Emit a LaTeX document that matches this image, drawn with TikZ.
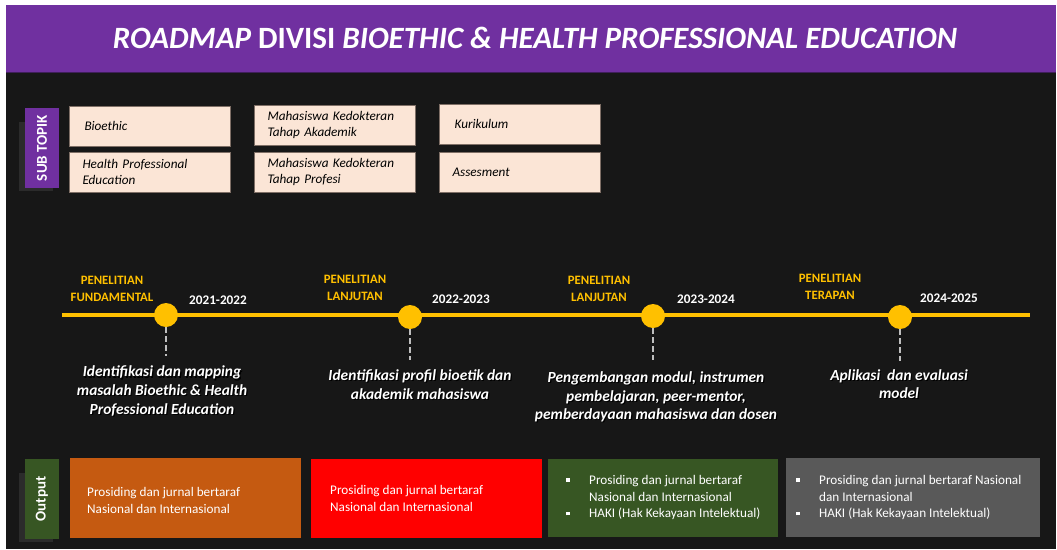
\documentclass[tikz,border=0pt]{standalone}
\usepackage{fontspec}
\setmainfont{Carlito}
\definecolor{bgdark}{HTML}{171717}
\definecolor{titlepurple}{HTML}{7030A0}
\definecolor{titleline}{HTML}{3F1F5A}
\definecolor{peach}{HTML}{FBE5D6}
\definecolor{peachborder}{HTML}{7F6F66}
\definecolor{tlyellow}{HTML}{FFC000}
\definecolor{dashgrey}{HTML}{BFBFBF}
\definecolor{outorange}{HTML}{C55A11}
\definecolor{outred}{HTML}{FF0000}
\definecolor{outgreen}{HTML}{375623}
\definecolor{outgrey}{HTML}{595959}
\definecolor{shadowgrey}{HTML}{2B2B2B}
\tikzset{
  topicbox/.style={draw=peachborder, line width=0.8pt, fill=peach, minimum height=40pt,
    text width=135pt, inner xsep=13pt, inner ysep=0pt, align=left,
    font=\fontsize{13.2}{16.5}\selectfont\itshape, text=black},
  sidelabel/.style={minimum width=34pt, minimum height=80pt, inner sep=0pt},
  sidetext/.style={rotate=90, text=white, font=\fontsize{15}{16}\selectfont\bfseries},
  phase/.style={text=tlyellow, align=center, font=\fontsize{12.8}{17}\selectfont\bfseries},
  yearlbl/.style={text=white, font=\fontsize{13.2}{15}\selectfont\bfseries},
  milestone/.style={circle, fill=tlyellow, minimum size=24pt, inner sep=0pt},
  dashlink/.style={draw=dashgrey, line width=2.5pt, dash pattern=on 6pt off 3pt},
  desc/.style={align=center, font=\fontsize{15.4}{18.6}\selectfont\bfseries\itshape},
  outbox/.style={minimum height=80pt, inner sep=0pt},
  outtext/.style={text=white, align=left, anchor=west, inner sep=0pt,
    font=\fontsize{13.2}{16.8}\selectfont},
}
\newcommand{\mybullet}{\makebox[23pt][l]{\rule[2.5pt]{3.5pt}{3.5pt}}}
\newcommand{\myindent}{\hspace*{23pt}}
\begin{document}
\begin{tikzpicture}[x=1pt,y=-1pt]
% canvas
\fill[white] (0,0) rectangle (1057,549);
\useasboundingbox (0,0) rectangle (1057,549);
\fill[bgdark] (6,5) rectangle (1056,549);
% title band
\fill[titlepurple] (6,5) rectangle (1056,72);
\draw[titleline, line width=1pt] (6,72) -- (1056,72);
\node[text=white, font=\fontsize{31}{33}\selectfont\bfseries] (title) at (535,38)
  {\itshape ROADMAP \upshape DIVISI \itshape BIOETHIC \& HEALTH PROFESSIONAL EDUCATION};

% SUB TOPIK label
\fill[shadowgrey] (19,122) rectangle (53,191);
\node[sidelabel, fill=titlepurple] (subtopik) at (42,148) {};
\node[sidetext] (subtopiktxt) at (subtopik.center) {SUB TOPIK};

% topic boxes
\node[topicbox] (t1) at (150,126) {\hspace*{2pt}Bioethic};
\node[topicbox] (t2) at (150,172) {Health Professional\\Education};
\node[topicbox] (t3) at (335,125) {Mahasiswa Kedokteran\\Tahap Akademik};
\node[topicbox] (t4) at (335,172) {Mahasiswa Kedokteran\\Tahap Profesi};
\node[topicbox] (t5) at (520,124) {\hspace*{2pt}Kurikulum};
\node[topicbox] (t6) at (520,172) {Assesment};

% timeline
\coordinate (tlstart) at (62,315);
\coordinate (tlend) at (1030,315);
\draw[tlyellow, line width=4pt] (tlstart) -- (tlend);
\node[milestone] (m1) at (166,315) {};
\node[milestone] (m2) at (410,317) {};
\node[milestone] (m3) at (653,316) {};
\node[milestone] (m4) at (900,317) {};
\coordinate (e1) at (166,356);
\coordinate (e2) at (410,360);
\coordinate (e3) at (653,360);
\coordinate (e4) at (900,361);
\draw[dashlink] (m1.south) -- (e1);
\draw[dashlink] (m2.south) -- (e2);
\draw[dashlink] (m3.south) -- (e3);
\draw[dashlink] (m4.south) -- (e4);

% phase labels
\node[phase] (p1) at (112,289) {PENELITIAN\\FUNDAMENTAL};
\node[phase] (p2) at (355,288) {PENELITIAN\\LANJUTAN};
\node[phase] (p3) at (599,289) {PENELITIAN\\LANJUTAN};
\node[phase] (p4) at (830,287) {PENELITIAN\\TERAPAN};
\node[yearlbl] (y1) at (218,300) {2021-2022};
\node[yearlbl] (y2) at (461,299) {2022-2023};
\node[yearlbl] (y3) at (706,299) {2023-2024};
\node[yearlbl] (y4) at (949,298) {2024-2025};

% descriptions (with shadow)
\node[desc, text=black] (d1s) at (163.2,392.2) {Identifikasi dan mapping\\masalah Bioethic \& Health\\Professional Education};
\node[desc, text=white] (d1) at (162,391) {Identifikasi dan mapping\\masalah Bioethic \& Health\\Professional Education};
\node[desc, text=black] (d2s) at (421.2,385.7) {Identifikasi profil bioetik dan\\akademik mahasiswa};
\node[desc, text=white] (d2) at (420,384.5) {Identifikasi profil bioetik dan\\akademik mahasiswa};
\node[desc, text=black] (d3s) at (657.2,398.2) {Pengembangan modul, instrumen\\pembelajaran, peer-mentor,\\pemberdayaan mahasiswa dan dosen};
\node[desc, text=white] (d3) at (656,397) {Pengembangan modul, instrumen\\pembelajaran, peer-mentor,\\pemberdayaan mahasiswa dan dosen};
\node[desc, text=black] (d4s) at (900.2,385.2) {Aplikasi~ dan evaluasi\\model};
\node[desc, text=white] (d4) at (899,384) {Aplikasi~ dan evaluasi\\model};

% Output label
\fill[shadowgrey] (19,473) rectangle (53,542);
\node[sidelabel, fill=outgreen] (outlbl) at (42,499) {};
\node[sidetext] (outlbltxt) at (outlbl.center) {Output};

% output boxes
\node[outbox, fill=outorange, minimum width=231pt] (o1) at (185.5,498) {};
\node[outbox, fill=outred, minimum width=231pt, minimum height=79pt] (o2) at (426.5,498.5) {};
\node[outbox, fill=outgreen, minimum width=230pt, minimum height=78pt] (o3) at (663,498) {};
\node[outbox, fill=outgrey, minimum width=254pt, minimum height=79pt] (o4) at (913,497.5) {};

\node[outtext] (o1t) at (87,500.5) {Prosiding dan jurnal bertaraf\\Nasional dan Internasional};
\node[outtext] (o2t) at (330,498.5) {Prosiding dan jurnal bertaraf\\Nasional dan Internasional};
\node[outtext] (o3t) at (566,497.5) {\mybullet Prosiding dan jurnal bertaraf\\\myindent Nasional dan Internasional\\\mybullet HAKI (Hak Kekayaan Intelektual)};
\node[outtext] (o4t) at (796,497.5) {\mybullet Prosiding dan jurnal bertaraf Nasional\\\myindent dan Internasional\\\mybullet HAKI (Hak Kekayaan Intelektual)};
\end{tikzpicture}
\end{document}
